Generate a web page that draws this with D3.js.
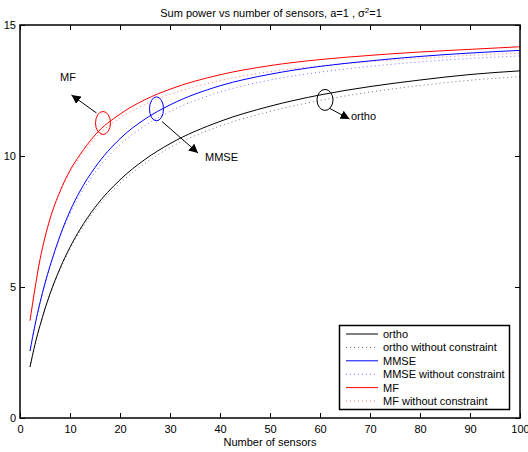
<!DOCTYPE html>
<html>
<head>
<meta charset="utf-8">
<script src="https://cdn.jsdelivr.net/npm/d3@7"></script>
<style>
  body { margin: 0; background: #fff; }
  svg { display: block; font-family: "Liberation Sans", Arial, Helvetica, sans-serif; }
  .tick text { font-size: 11px; fill: #000; }
</style>
</head>
<body>
<svg id="chart" width="528" height="452"></svg>
<script>
// number of sensors
const sensors = [2, 3, 4, 5, 6, 8, 10, 12, 15, 20, 25, 30, 40, 50, 60, 70, 80, 90, 100];

// sum power
const ortho = [1.95, 2.81, 3.53, 4.17, 4.74, 5.71, 6.52, 7.2, 8.04, 9.09, 9.87, 10.47, 11.32, 11.9, 12.33, 12.65, 12.9, 13.11, 13.25];
const orthoFree = [1.95, 2.8, 3.52, 4.15, 4.71, 5.66, 6.45, 7.11, 7.93, 8.96, 9.72, 10.32, 11.14, 11.7, 12.12, 12.44, 12.69, 12.89, 13.03];
const mmse = [2.56, 3.55, 4.4, 5.15, 5.8, 6.95, 7.9, 8.66, 9.56, 10.66, 11.41, 11.95, 12.68, 13.12, 13.42, 13.63, 13.8, 13.93, 14.03];
const mmseFree = [2.56, 3.54, 4.38, 5.12, 5.76, 6.9, 7.8, 8.51, 9.38, 10.43, 11.16, 11.7, 12.44, 12.9, 13.2, 13.42, 13.59, 13.72, 13.82];
const mf = [3.72, 4.95, 6.05, 6.9, 7.6, 8.65, 9.45, 10.05, 10.8, 11.6, 12.15, 12.55, 13.1, 13.45, 13.68, 13.84, 13.97, 14.07, 14.17];
const mfFree = [3.72, 4.95, 6.04, 6.88, 7.57, 8.6, 9.38, 9.95, 10.68, 11.45, 11.97, 12.35, 12.88, 13.22, 13.44, 13.6, 13.73, 13.84, 13.93];

const xTicks = [0, 10, 20, 30, 40, 50, 60, 70, 80, 90, 100];
const yTicks = [0, 5, 10, 15];

const legendLabels = ['ortho', 'ortho without constraint', 'MMSE', 'MMSE without constraint', 'MF', 'MF without constraint'];

const svg = d3.select('#chart');
const m = { left: 20, right: 520, top: 25, bottom: 418 };

const x = d3.scaleLinear().domain([0, 100]).range([m.left, m.right]);
const y = d3.scaleLinear().domain([0, 15]).range([m.bottom, m.top]);

// title
const title = svg.append('text')
  .attr('x', 271).attr('y', 17)
  .attr('text-anchor', 'middle')
  .style('font-size', '11px');
title.append('tspan').text('Sum power vs number of sensors, a=1 , \u03c3');
title.append('tspan').attr('dy', -4).style('font-size', '8px').text('2');
title.append('tspan').attr('dy', 4).text('=1');

// axes, ticks inside like matlab
svg.append('g')
  .attr('transform', `translate(0,${m.bottom})`)
  .call(d3.axisBottom(x).tickValues(xTicks).tickSizeInner(-5).tickSizeOuter(0).tickPadding(7))
  .call(g => g.select('.domain').remove());
svg.append('g')
  .attr('transform', `translate(0,${m.top})`)
  .call(d3.axisTop(x).tickValues(xTicks).tickSizeInner(-5).tickSizeOuter(0).tickFormat(''))
  .call(g => g.select('.domain').remove());
svg.append('g')
  .attr('transform', `translate(${m.left},0)`)
  .call(d3.axisLeft(y).tickValues(yTicks).tickSizeInner(-5).tickSizeOuter(0).tickPadding(4))
  .call(g => g.select('.domain').remove());
svg.append('g')
  .attr('transform', `translate(${m.right},0)`)
  .call(d3.axisRight(y).tickValues(yTicks).tickSizeInner(-5).tickSizeOuter(0).tickFormat(''))
  .call(g => g.select('.domain').remove());

svg.append('text')
  .attr('x', 270).attr('y', 446)
  .attr('text-anchor', 'middle')
  .style('font-size', '11px')
  .text('Number of sensors');

svg.append('clipPath').attr('id', 'plot')
  .append('rect').attr('x', m.left).attr('y', m.top).attr('width', m.right - m.left).attr('height', m.bottom - m.top);

const line = d3.line()
  .x((d, i) => x(sensors[i]))
  .y(d => y(d))
  .curve(d3.curveMonotoneX);

const series = [
  { v: ortho, c: '#000', dash: null },
  { v: orthoFree, c: '#000', dash: '1,3' },
  { v: mmse, c: '#0000ff', dash: null },
  { v: mmseFree, c: '#0000ff', dash: '1,3' },
  { v: mf, c: '#ff0000', dash: null },
  { v: mfFree, c: '#ff0000', dash: '1,3' }
];

const plot = svg.append('g').attr('clip-path', 'url(#plot)');
// dotted ones first so solid lines sit on top
series.slice().sort((a, b) => (b.dash ? 1 : 0) - (a.dash ? 1 : 0)).forEach(s => {
  plot.append('path')
    .attr('d', line(s.v))
    .attr('fill', 'none')
    .attr('stroke', s.c)
    .attr('stroke-width', 1)
    .attr('stroke-opacity', s.dash ? 0.55 : 1)
    .attr('stroke-dasharray', s.dash);
});

// frame
svg.append('rect')
  .attr('x', m.left).attr('y', m.top)
  .attr('width', m.right - m.left).attr('height', m.bottom - m.top)
  .attr('fill', 'none').attr('stroke', '#000').attr('stroke-width', 1.5);

// annotations
svg.append('defs').append('marker')
  .attr('id', 'head')
  .attr('viewBox', '0 0 10 10')
  .attr('refX', 10).attr('refY', 5)
  .attr('markerWidth', 9).attr('markerHeight', 9)
  .attr('markerUnits', 'userSpaceOnUse')
  .attr('orient', 'auto')
  .append('path').attr('d', 'M0,0L10,5L0,10Z').attr('fill', '#000');

const notes = [
  { n: 16.6, v: 11.26, rx: 7.5, ry: 11.5, c: '#ff0000', from: [96.5, 113], to: [71.5, 95], label: 'MF', lx: 60, ly: 81 },
  { n: 27.3, v: 11.8, rx: 7, ry: 12, c: '#0000ff', from: [162, 121.5], to: [198, 153], label: 'MMSE', lx: 205, ly: 161 },
  { n: 61, v: 12.14, rx: 8, ry: 10.5, c: '#000', from: [329, 108], to: [349.5, 119], label: 'ortho', lx: 351, ly: 120 }
];

notes.forEach(d => {
  svg.append('ellipse')
    .attr('cx', x(d.n)).attr('cy', y(d.v))
    .attr('rx', d.rx).attr('ry', d.ry)
    .attr('fill', 'none').attr('stroke', d.c).attr('stroke-width', 1);
  svg.append('line')
    .attr('x1', d.from[0]).attr('y1', d.from[1])
    .attr('x2', d.to[0]).attr('y2', d.to[1])
    .attr('stroke', '#000').attr('stroke-width', 1)
    .attr('marker-end', 'url(#head)');
  svg.append('text')
    .attr('x', d.lx).attr('y', d.ly)
    .style('font-size', '11px')
    .text(d.label);
});

// legend
const lg = svg.append('g');
lg.append('rect')
  .attr('x', 339.5).attr('y', 325.5)
  .attr('width', 170).attr('height', 84)
  .attr('fill', '#fff').attr('stroke', '#000').attr('stroke-width', 1.5);
legendLabels.forEach((t, i) => {
  const yy = 334 + i * 13.4;
  lg.append('line')
    .attr('x1', 346).attr('x2', 378)
    .attr('y1', yy).attr('y2', yy)
    .attr('stroke', series[i].c)
    .attr('stroke-opacity', series[i].dash ? 0.55 : 1)
    .attr('stroke-dasharray', series[i].dash);
  lg.append('text')
    .attr('x', 383).attr('y', yy + 4)
    .style('font-size', '11px')
    .text(t);
});
</script>
</body>
</html>
